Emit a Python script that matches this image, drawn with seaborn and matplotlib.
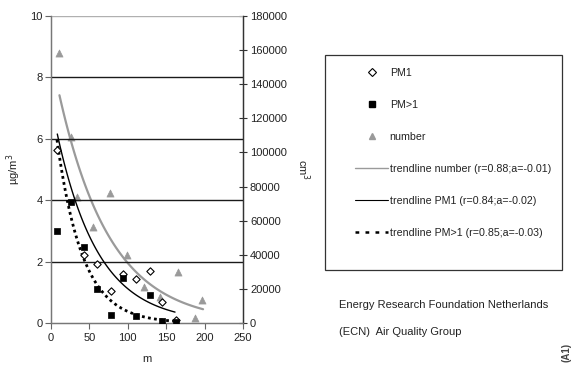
import numpy as np
import pandas as pd
import matplotlib
matplotlib.use("Agg")
import matplotlib.pyplot as plt
from matplotlib.lines import Line2D
from matplotlib.patches import Rectangle
import seaborn as sns

# ---------------- data ----------------
pm1_x = [8.2, 42.9, 60.2, 77.6, 94.0, 111.0, 128.3, 144.7, 162.5]
pm1_y = [5.62, 2.22, 1.92, 1.05, 1.60, 1.43, 1.71, 0.70, 0.11]

pmgt1_x = [8.2, 25.6, 42.9, 60.2, 77.6, 94.0, 111.0, 128.3, 144.7, 162.5]
pmgt1_y = [3.00, 3.94, 2.46, 1.12, 0.27, 1.46, 0.24, 0.91, 0.08, 0.02]

number_x = [10.8, 26.0, 33.4, 55.0, 76.7, 98.8, 120.9, 141.7, 165.0, 187.0, 196.0]
number_y = [158500, 109000, 73800, 56200, 76100, 40000, 21100, 15200, 29700, 3100, 13700]

# exponential trendlines y = A * exp(a * x), coefficients
trend_number = dict(A=157500, a=-0.0150, x0=11.0, x1=198.0)
trend_pm1 = dict(A=7.17, a=-0.0186, x0=8.2, x1=161.5)
trend_pmgt1 = dict(A=7.54, a=-0.0300, x0=7.8, x1=162.5)

x_ticks = [0, 50, 100, 150, 200, 250]
left_ticks = [0, 2, 4, 6, 8, 10]
right_ticks = [0, 20000, 40000, 60000, 80000, 100000, 120000, 140000, 160000, 180000]

legend_labels = ["PM1", "PM>1", "number",
                 "trendline number (r=0.88;a=-0.01)",
                 "trendline PM1 (r=0.84;a=-0.02)",
                 "trendline PM>1 (r=0.85;a=-0.03)"]
footer_lines = ["Energy Research Foundation Netherlands", "(ECN)  Air Quality Group"]

# ---------------- styling ----------------
sns.set_style("white")
plt.rcParams["font.family"] = ["Liberation Sans", "DejaVu Sans"]

W, H = 571, 367
fig = plt.figure(figsize=(W / 100, H / 100), dpi=100)
ax = fig.add_axes([51 / W, 1 - 323 / H, (243 - 51) / W, (323 - 16) / H])
ax2 = ax.twinx()

GRAY = "#9a9a9a"
TXT = "#222222"


def trend_frame(p):
    xs = np.linspace(p["x0"], p["x1"], 120)
    return pd.DataFrame({"x": xs, "y": p["A"] * np.exp(p["a"] * xs)})


# gridlines on left axis
for g in [2, 4, 6, 8]:
    ax.axhline(g, color="#1a1a1a", lw=1.0, zorder=0)
ax.axhline(10, color="#b0b0b0", lw=1.0, zorder=0)

# trendlines
t_num = trend_frame(trend_number)
t_pm1 = trend_frame(trend_pm1)
t_pmg = trend_frame(trend_pmgt1)
sns.lineplot(data=t_num, x="x", y="y", ax=ax2, color=GRAY, lw=1.6, legend=False)
sns.lineplot(data=t_pm1, x="x", y="y", ax=ax, color="black", lw=1.0, legend=False)
sns.lineplot(data=t_pmg, x="x", y="y", ax=ax, color="black", lw=2.0,
             linestyle=(0, (1, 1.2)), legend=False)

# scatter points
sns.scatterplot(x=number_x, y=number_y, ax=ax2, marker="^", s=26, color=GRAY,
                edgecolor=GRAY, linewidth=0.5, legend=False, zorder=3)
sns.scatterplot(x=pm1_x, y=pm1_y, ax=ax, marker="D", s=14, color="white",
                edgecolor="black", linewidth=0.8, legend=False, zorder=4)
sns.scatterplot(x=pmgt1_x, y=pmgt1_y, ax=ax, marker="s", s=20, color="black",
                edgecolor="black", linewidth=0.5, legend=False, zorder=4)

# axes limits / ticks
ax.set_xlim(0, 250)
ax.set_ylim(0, 10)
ax2.set_ylim(0, 180000)
ax.set_xticks(x_ticks)
ax.set_yticks(left_ticks)
ax2.set_yticks(right_ticks)
ax.set_xticklabels([str(v) for v in x_ticks])
ax.set_yticklabels([str(v) for v in left_ticks])
ax2.set_yticklabels([str(v) for v in right_ticks])
ax.set_xlabel("m", fontsize=8, color=TXT, labelpad=8)
ax.set_ylabel("µg/m$^3$", fontsize=8, color=TXT, labelpad=5)
ax2.set_ylabel("cm$^3$", fontsize=8, color=TXT, rotation=270, labelpad=18)
ax.set_zorder(ax2.get_zorder() + 1)
ax.patch.set_visible(False)

ax.tick_params(axis="x", direction="out", length=4, width=0.8, color="#666666",
               labelsize=8, labelcolor=TXT, pad=3, bottom=True)
ax.tick_params(axis="y", direction="out", length=4, width=0.8, color="#666666",
               labelsize=8, labelcolor=TXT, pad=2, left=True)
ax2.tick_params(axis="y", direction="inout", length=6, width=0.8, color="#333333",
                labelsize=8, labelcolor=TXT, pad=2, right=True)

for a_ in (ax, ax2):
    a_.spines["top"].set_visible(False)
    a_.spines["left"].set_color("#777777")
    a_.spines["bottom"].set_color("#777777")
    a_.spines["right"].set_color("#333333")
    for s in a_.spines.values():
        s.set_linewidth(0.9)

# ---------------- legend (custom box) ----------------
box = Rectangle((325 / W, 1 - 270 / H), (562 - 325) / W, (270 - 55) / H,
                transform=fig.transFigure, fill=False, edgecolor="#333333",
                lw=0.9)
fig.patches.append(box)

handles = [
    Line2D([], [], marker="D", ls="none", markersize=3.6, markerfacecolor="white",
           markeredgecolor="black", markeredgewidth=0.8),
    Line2D([], [], marker="s", ls="none", markersize=4.2, color="black"),
    Line2D([], [], marker="^", ls="none", markersize=5, color=GRAY),
    Line2D([], [], color=GRAY, lw=1.0),
    Line2D([], [], color="black", lw=0.8),
    Line2D([], [], color="black", lw=1.8, linestyle=(0, (1.5, 2.5))),
]
fig.legend(handles, legend_labels, loc="upper left",
           bbox_to_anchor=(355 / W, 1 - 68 / H), frameon=False,
           fontsize=7.7, handlelength=3.1, handletextpad=0.15,
           labelspacing=2.05, borderpad=0, borderaxespad=0,
           labelcolor=TXT)

fig.text(339 / W, 1 - 305 / H, footer_lines[0], fontsize=8, color=TXT,
         va="center", ha="left")
fig.text(339 / W, 1 - 332 / H, footer_lines[1], fontsize=8, color=TXT,
         va="center", ha="left")
fig.text(567 / W, 1 - 352 / H, "(A1)", fontsize=7, fontweight="bold",
         color="#444444", rotation=90, va="center", ha="center")

fig.savefig("out.png", dpi=100)
